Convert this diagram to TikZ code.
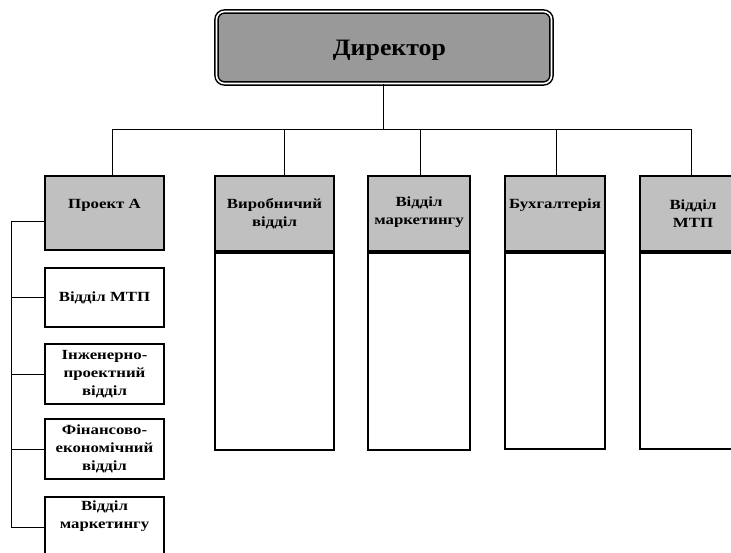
\documentclass[tikz,border=0pt]{standalone}
\usepackage{fontspec}
\setmainfont{Liberation Serif}[FakeStretch=1.2]
\newfontfamily\titlefont{Liberation Serif}[FakeStretch=1.1]
\usetikzlibrary{calc}
\definecolor{dirgray}{HTML}{999999}
\definecolor{headgray}{HTML}{C0C0C0}
\begin{document}
\begin{tikzpicture}[x=1pt,y=-1pt,
  conn/.style={line width=1pt},
  box/.style={draw, line width=2pt, inner sep=0pt, anchor=north west},
  headbox/.style={box, fill=headgray},
  bodybox/.style={box, fill=white},
  lbl/.style={font=\fontsize{14}{18}\selectfont\bfseries, align=center, inner sep=0pt},
]
\clip (0,0) rectangle (731,553);

% Director
\node[draw, line width=1.5pt, double, double distance=1.6pt, fill=dirgray,
      rounded corners=8pt, minimum width=335, minimum height=72, inner sep=0pt]
      (dir) at (384,47.5) {};
\node[font=\titlefont\fontsize{23.5}{28}\selectfont\bfseries, anchor=base, inner sep=0pt]
      (dirlbl) at ([xshift=5.5pt,yshift=-8.5pt]dir.center) {Директор};

% Project A and its departments
\node[headbox, minimum width=119, minimum height=74] (pa) at (44,175) {};
\node[lbl] (palbl) at ([yshift=-30pt]pa.north) {Проект А};
\node[bodybox, minimum width=119, minimum height=59] (mtp) at (44,267) {};
\node[lbl] at (mtp.center) {Відділ МТП};
\node[bodybox, minimum width=119, minimum height=60] (ing) at (44,343) {};
\node[lbl] at (ing.center) {Інженерно-\\проектний\\відділ};
\node[bodybox, minimum width=119, minimum height=60] (fin) at (44,418) {};
\node[lbl] at (fin.center) {Фінансово-\\економічний\\відділ};
\node[bodybox, minimum width=119, minimum height=60] (mk) at (44,496) {};
\node[lbl] at ([yshift=-20.5pt]mk.north) {Відділ\\маркетингу};

% Functional departments: grey heading above an empty body
\node[bodybox, minimum width=119, minimum height=199] (c1b) at (214,250) {};
\node[headbox, minimum width=119, minimum height=75] (c1) at (214,175) {};
\node[lbl] at ([yshift=-38.5pt]c1.north) {Виробничий\\відділ};

\node[bodybox, minimum width=102, minimum height=199] (c2b) at (367,250) {};
\node[headbox, minimum width=102, minimum height=75] (c2) at (367,175) {};
\node[lbl] at ([yshift=-37.5pt]c2.north) {Відділ\\маркетингу};

\node[bodybox, minimum width=100, minimum height=198] (c3b) at (504,250) {};
\node[headbox, minimum width=100, minimum height=75] (c3) at (504,175) {};
\node[lbl] at ([yshift=-30pt]c3.north) {Бухгалтерія};

\node[bodybox, minimum width=106, minimum height=198] (c4b) at (639,250) {};
\node[headbox, minimum width=106, minimum height=75] (c4) at (639,175) {};
\node[lbl] at ([yshift=-39pt]c4.north) {Відділ\\МТП};

% Thicker seam between heading and body
\foreach \c in {c1,c2,c3,c4}
  \draw[line width=3.2pt] (\c.south west) -- (\c.south east);

% Connectors from the director
\coordinate (bus) at (383,130);
\draw[conn] (dir.south -| bus) -- (bus);
\draw[conn] (bus) -| ([xshift=7.5pt]pa.north);
\draw[conn] (bus) -| ([xshift=9.5pt]c1.north);
\draw[conn] (bus) -| ([xshift=1pt]c2.north);
\draw[conn] (bus) -| ([xshift=1pt]c3.north);
\draw[conn] (bus) -| ([xshift=-2pt]c4.north);

% Spine linking Project A to its departments
\coordinate (spine) at (11,0);
\draw[conn] ([yshift=-9pt]pa.west) -- ([yshift=-9pt]pa.west -| spine) |- (mk.west);
\foreach \n in {mtp,ing,fin}
  \draw[conn] (\n.west) -- (\n.west -| spine);
\end{tikzpicture}
\end{document}
